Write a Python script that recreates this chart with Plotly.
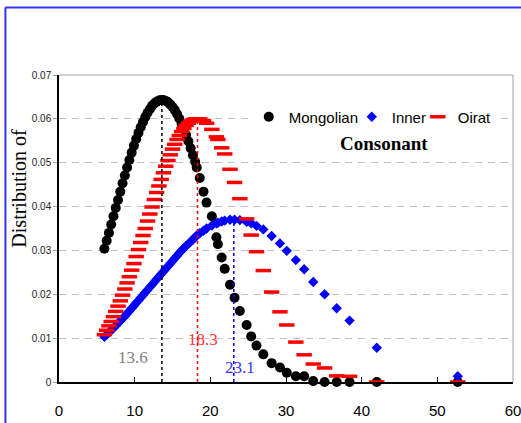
import plotly.graph_objects as go

# ---- data ----
lengths = [6.0, 6.3, 6.6, 6.9, 7.2, 7.5, 7.8, 8.1, 8.4, 8.7, 9.0, 9.3, 9.6, 9.9,
           10.2, 10.5, 10.8, 11.1, 11.4, 11.7, 12.0, 12.3, 12.6, 12.9, 13.2, 13.5,
           13.8, 14.1, 14.4, 14.7, 15.0, 15.3, 15.6, 15.9, 16.2, 16.5, 16.8, 17.1,
           17.4, 17.7, 18.0,
           18.2, 18.6, 19.1, 19.5, 20.2, 20.8, 21.0, 21.5, 21.9, 22.6, 23.2, 23.9,
           24.8, 25.4, 26.1, 27.0, 28.1, 29.2, 30.1, 31.3, 32.4, 33.6, 35.1, 36.7,
           38.4, 42.0, 52.7]

mongolian = [0.0304, 0.0322, 0.0340, 0.0359, 0.0378, 0.0397, 0.0415, 0.0434, 0.0453,
             0.0471, 0.0489, 0.0506, 0.0523, 0.0539, 0.0554, 0.0568, 0.0581, 0.0593,
             0.0604, 0.0614, 0.0622, 0.0630, 0.0635, 0.0639, 0.0642, 0.0643, 0.0643,
             0.0641, 0.0638, 0.0633, 0.0627, 0.0620, 0.0611, 0.0601, 0.0589, 0.0577,
             0.0563, 0.0549, 0.0533, 0.0517, 0.0502,
             0.0489, 0.0465, 0.0434, 0.0409, 0.0378, 0.0330, 0.0314, 0.0284, 0.0258,
             0.0222, 0.0192, 0.0162, 0.0130, 0.0104, 0.0083, 0.0063, 0.0043, 0.0033,
             0.0021, 0.0013, 0.0013, 0.0002, 0.0, 0.0, 0.0, 0.0, 0.0]

inner = [0.0103, 0.0108, 0.0113, 0.0118, 0.0123, 0.0128, 0.0134, 0.0139, 0.0145,
         0.0150, 0.0156, 0.0162, 0.0168, 0.0174, 0.0180, 0.0186, 0.0192, 0.0198,
         0.0204, 0.0210, 0.0216, 0.0222, 0.0228, 0.0234, 0.0240, 0.0246, 0.0252,
         0.0258, 0.0264, 0.0270, 0.0276, 0.0282, 0.0288, 0.0294, 0.0300, 0.0305,
         0.0310, 0.0315, 0.0320, 0.0325, 0.0330,
         0.0334, 0.0339, 0.0345, 0.0350, 0.0357, 0.0362, 0.0363, 0.0366, 0.0368,
         0.0370, 0.0370, 0.0369, 0.0365, 0.0362, 0.0356, 0.0348, 0.0333, 0.0316,
         0.0299, 0.0278, 0.0257, 0.0228, 0.0200, 0.0168, 0.0140, 0.0078, 0.0013]

oirat = [0.0108, 0.0118, 0.0128, 0.0138, 0.0149, 0.0161, 0.0173, 0.0185, 0.0198,
         0.0212, 0.0226, 0.0240, 0.0255, 0.0270, 0.0286, 0.0302, 0.0318, 0.0334,
         0.0350, 0.0367, 0.0383, 0.0399, 0.0416, 0.0432, 0.0447, 0.0462, 0.0477,
         0.0492, 0.0505, 0.0518, 0.0531, 0.0542, 0.0553, 0.0562, 0.0571, 0.0578,
         0.0585, 0.0590, 0.0595, 0.0598, 0.0600,
         0.0600, 0.0600, 0.0596, 0.0590, 0.0576, 0.0559, 0.0553, 0.0534, 0.0520,
         0.0485, 0.0455, 0.0418, 0.0372, 0.0335, 0.0297, 0.0254, 0.0205, 0.0160,
         0.0130, 0.0091, 0.0062, 0.0041, 0.0032, 0.0014, 0.0013, 0.0, 0.0]

series_names = ["Mongolian", "Inner", "Oirat"]
means = [13.6, 18.3, 23.1]
mean_labels = ["13.6", "18.3", "23.1"]
mean_peaks = [0.0643, 0.0600, 0.0370]
y_ticks = [0, 0.01, 0.02, 0.03, 0.04, 0.05, 0.06, 0.07]
y_tick_text = ["0", "0.01", "0.02", "0.03", "0.04", "0.05", "0.06", "0.07"]
x_ticks = [0, 10, 20, 30, 40, 50, 60]

fig = go.Figure()

fig.add_trace(go.Scatter(
    x=lengths, y=mongolian, mode="markers", name=series_names[0], legendwidth=58,
    marker=dict(symbol="circle", size=10, color="black"), cliponaxis=False))
fig.add_trace(go.Scatter(
    x=lengths, y=inner, mode="markers", name=series_names[1], legendwidth=21,
    marker=dict(symbol="diamond", size=8, color="#0000ff"), cliponaxis=False))
fig.add_trace(go.Scatter(
    x=lengths, y=oirat, mode="markers", name=series_names[2], legendwidth=36,
    marker=dict(symbol="line-ew", size=11, color="#ff0000",
                line=dict(color="#ff0000", width=3.5)), cliponaxis=False))

# mean (dotted) lines
mean_colors = ["black", "#ff0000", "#0000ff"]
for m, p, c in zip(means, mean_peaks, mean_colors):
    fig.add_trace(go.Scatter(x=[m, m], y=[0, p], mode="lines", showlegend=False,
                             line=dict(color=c, width=1.5, dash="dot"),
                             hoverinfo="skip"))

# mean labels
fig.add_annotation(x=9.8, y=0.0057, text=mean_labels[0], showarrow=False,
                   font=dict(family="Liberation Serif", size=17, color="#808080"))
fig.add_annotation(x=19.0, y=0.0098, text=mean_labels[1], showarrow=False,
                   font=dict(family="Liberation Serif", size=17, color="#ff3333"))
fig.add_annotation(x=23.9, y=0.0032, text=mean_labels[2], showarrow=False,
                   font=dict(family="Liberation Serif", size=17, color="#3333ff"))

# subtitle
fig.add_annotation(x=0.715, y=0.776, xref="paper", yref="paper",
                   xanchor="center", yanchor="middle",
                   text="<b>Consonant</b>", showarrow=False,
                   font=dict(family="Liberation Serif", size=19, color="black"))

# y-axis title
fig.add_annotation(x=-0.088, y=0.63, xref="paper", yref="paper",
                   xanchor="center", yanchor="middle",
                   text="Distribution of", textangle=-90, showarrow=False,
                   font=dict(family="Liberation Serif", size=20, color="black"))

# plot-area frame (top / right) and outer blue border
fig.add_shape(type="line", xref="paper", yref="paper", x0=0, x1=1, y0=1, y1=1,
              line=dict(color="#a0a0a0", width=1))
fig.add_shape(type="line", xref="paper", yref="paper", x0=1, x1=1, y0=0, y1=1,
              line=dict(color="#a0a0a0", width=1))
fig.add_shape(type="line", xref="paper", yref="paper", x0=-0.118, x1=1.2,
              y0=1.2199, y1=1.2199, line=dict(color="#3333ee", width=2))
fig.add_shape(type="line", xref="paper", yref="paper", x0=-0.118, x1=-0.118,
              y0=1.2199, y1=-0.2, line=dict(color="#3333ee", width=2))

fig.update_layout(
    width=521, height=423,
    margin=dict(l=59, r=8, t=75, b=41, autoexpand=False),
    paper_bgcolor="white", plot_bgcolor="white",
    font=dict(family="Liberation Sans", color="black"),
    showlegend=True,
    legend=dict(orientation="h", x=0.418, xanchor="left", y=0.863, yanchor="middle",
                bgcolor="white", font=dict(family="Liberation Sans", size=15),
                itemwidth=30, tracegroupgap=0),
    xaxis=dict(range=[0, 60], tickvals=x_ticks, showgrid=False, zeroline=False,
               showline=True, linecolor="black", linewidth=1.5,
               ticks="inside", ticklen=5, tickcolor="black",
               tickfont=dict(family="Liberation Sans", size=15),
               ticklabelstandoff=14, ticklabeloverflow="allow"),
    yaxis=dict(range=[0, 0.07], tickvals=y_ticks, ticktext=y_tick_text,
               showgrid=True, gridcolor="#c0c0c0", griddash="7px,6px", gridwidth=1,
               zeroline=False, showline=True, linecolor="black", linewidth=1.5,
               ticks="outside", ticklen=4, tickcolor="#a0a0a0",
               tickfont=dict(family="Liberation Sans", size=10, color="#222")),
)

fig.write_html("out.html", post_script="document.body.style.margin='0px';",
               config={"displayModeBar": False})
